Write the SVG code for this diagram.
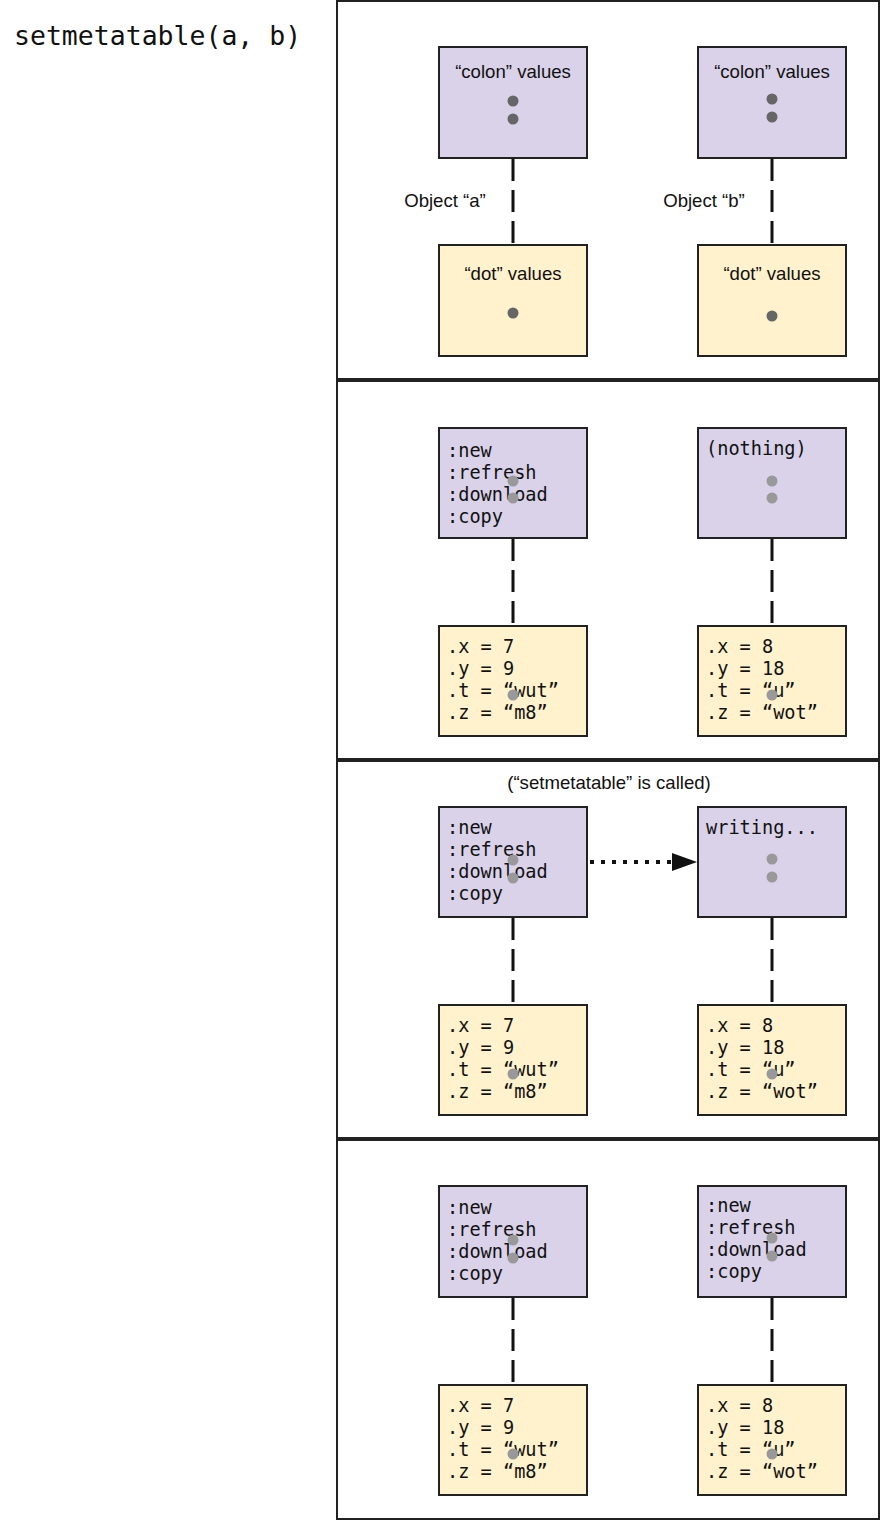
<svg xmlns="http://www.w3.org/2000/svg" width="880" height="1521" viewBox="0 0 880 1521">
<defs>
<style>
.panel{fill:#fff;stroke:#222;stroke-width:2}
.colon{fill:#d9d2e9;stroke:#222;stroke-width:2}
.dot{fill:#fff2cc;stroke:#222;stroke-width:2}
.sans{font-family:"Liberation Sans",Arial,sans-serif;font-size:18.6px;fill:#111}
.mono{font-family:"DejaVu Sans Mono","Liberation Mono",monospace;font-size:18.6px;fill:#111}
.title{font-family:"DejaVu Sans Mono","Liberation Mono",monospace;font-size:26.5px;fill:#111}
.dash{stroke:#111;stroke-width:3;stroke-dasharray:22 9;fill:none}
.arrow{stroke:#111;stroke-width:4;stroke-dasharray:4 7;fill:none}
.d1{fill:#666}
.d2{fill:#999}
</style>
</defs>
<rect width="880" height="1521" fill="#fff"/>
<text id="title" class="title" x="14" y="45">setmetatable(a, b)</text>
<g id="panels">
<rect class="panel" x="337" y="1" width="542" height="378"/>
<rect class="panel" x="337" y="381" width="542" height="378"/>
<rect class="panel" x="337" y="761" width="542" height="377"/>
<rect class="panel" x="337" y="1140" width="542" height="379"/>
</g>
<g id="connectors">
<line class="dash" x1="513" y1="159" x2="513" y2="245"/>
<line class="dash" x1="772" y1="159" x2="772" y2="245"/>
<line class="dash" x1="513" y1="539" x2="513" y2="626"/>
<line class="dash" x1="772" y1="539" x2="772" y2="626"/>
<line class="dash" x1="513" y1="918" x2="513" y2="1005"/>
<line class="dash" x1="772" y1="918" x2="772" y2="1005"/>
<line class="dash" x1="513" y1="1298" x2="513" y2="1385"/>
<line class="dash" x1="772" y1="1298" x2="772" y2="1385"/>
<line class="arrow" x1="590" y1="862" x2="672" y2="862"/>
<path d="M672,853 L697,862 L672,871 Z" fill="#111"/>
</g>
<g id="labels">
<text class="sans" x="445" y="207" text-anchor="middle">Object “a”</text>
<text class="sans" x="704" y="207" text-anchor="middle">Object “b”</text>
<text class="sans" x="609" y="789" text-anchor="middle">(“setmetatable” is called)</text>
</g>
<g id="p1-a-colon"><rect class="colon" x="439" y="47" width="148" height="111"/>
<text class="sans" x="513" y="78" text-anchor="middle">“colon” values</text>
<circle class="d1" cx="513" cy="101" r="5.5"/><circle class="d1" cx="513" cy="119" r="5.5"/></g>
<g id="p1-b-colon"><rect class="colon" x="698" y="47" width="148" height="111"/>
<text class="sans" x="772" y="78" text-anchor="middle">“colon” values</text>
<circle class="d1" cx="772" cy="99" r="5.5"/><circle class="d1" cx="772" cy="117" r="5.5"/></g>
<g id="p1-a-dot"><rect class="dot" x="439" y="245" width="148" height="111"/>
<text class="sans" x="513" y="280" text-anchor="middle">“dot” values</text>
<circle class="d1" cx="513" cy="313" r="5.5"/></g>
<g id="p1-b-dot"><rect class="dot" x="698" y="245" width="148" height="111"/>
<text class="sans" x="772" y="280" text-anchor="middle">“dot” values</text>
<circle class="d1" cx="772" cy="316" r="5.5"/></g>

<g id="p2-a-colon"><rect class="colon" x="439" y="428" width="148" height="110"/>
<text class="mono" x="447" y="457">:new</text><text class="mono" x="447" y="479">:refresh</text><text class="mono" x="447" y="501">:download</text><text class="mono" x="447" y="523">:copy</text>
<circle class="d2" cx="513" cy="481" r="5.5"/><circle class="d2" cx="513" cy="498" r="5.5"/></g>
<g id="p2-b-colon"><rect class="colon" x="698" y="428" width="148" height="110"/>
<text class="mono" x="706" y="455">(nothing)</text>
<circle class="d2" cx="772" cy="481" r="5.5"/><circle class="d2" cx="772" cy="498" r="5.5"/></g>
<g id="p2-a-dot"><rect class="dot" x="439" y="626" width="148" height="110"/>
<text class="mono" x="447" y="653">.x = 7</text><text class="mono" x="447" y="675">.y = 9</text><text class="mono" x="447" y="697">.t = “wut”</text><text class="mono" x="447" y="719">.z = “m8”</text>
<circle class="d2" cx="513" cy="695" r="5.5"/></g>
<g id="p2-b-dot"><rect class="dot" x="698" y="626" width="148" height="110"/>
<text class="mono" x="706" y="653">.x = 8</text><text class="mono" x="706" y="675">.y = 18</text><text class="mono" x="706" y="697">.t = “u”</text><text class="mono" x="706" y="719">.z = “wot”</text>
<circle class="d2" cx="772" cy="695" r="5.5"/></g>

<g id="p3-a-colon"><rect class="colon" x="439" y="807" width="148" height="110"/>
<text class="mono" x="447" y="834">:new</text><text class="mono" x="447" y="856">:refresh</text><text class="mono" x="447" y="878">:download</text><text class="mono" x="447" y="900">:copy</text>
<circle class="d2" cx="513" cy="860" r="5.5"/><circle class="d2" cx="513" cy="878" r="5.5"/></g>
<g id="p3-b-colon"><rect class="colon" x="698" y="807" width="148" height="110"/>
<text class="mono" x="706" y="834">writing...</text>
<circle class="d2" cx="772" cy="859" r="5.5"/><circle class="d2" cx="772" cy="877" r="5.5"/></g>
<g id="p3-a-dot"><rect class="dot" x="439" y="1005" width="148" height="110"/>
<text class="mono" x="447" y="1032">.x = 7</text><text class="mono" x="447" y="1054">.y = 9</text><text class="mono" x="447" y="1076">.t = “wut”</text><text class="mono" x="447" y="1098">.z = “m8”</text>
<circle class="d2" cx="513" cy="1074" r="5.5"/></g>
<g id="p3-b-dot"><rect class="dot" x="698" y="1005" width="148" height="110"/>
<text class="mono" x="706" y="1032">.x = 8</text><text class="mono" x="706" y="1054">.y = 18</text><text class="mono" x="706" y="1076">.t = “u”</text><text class="mono" x="706" y="1098">.z = “wot”</text>
<circle class="d2" cx="772" cy="1074" r="5.5"/></g>

<g id="p4-a-colon"><rect class="colon" x="439" y="1186" width="148" height="111"/>
<text class="mono" x="447" y="1214">:new</text><text class="mono" x="447" y="1236">:refresh</text><text class="mono" x="447" y="1258">:download</text><text class="mono" x="447" y="1280">:copy</text>
<circle class="d2" cx="513" cy="1240" r="5.5"/><circle class="d2" cx="513" cy="1258" r="5.5"/></g>
<g id="p4-b-colon"><rect class="colon" x="698" y="1186" width="148" height="111"/>
<text class="mono" x="706" y="1212">:new</text><text class="mono" x="706" y="1234">:refresh</text><text class="mono" x="706" y="1256">:download</text><text class="mono" x="706" y="1278">:copy</text>
<circle class="d2" cx="772" cy="1238" r="5.5"/><circle class="d2" cx="772" cy="1256" r="5.5"/></g>
<g id="p4-a-dot"><rect class="dot" x="439" y="1385" width="148" height="110"/>
<text class="mono" x="447" y="1412">.x = 7</text><text class="mono" x="447" y="1434">.y = 9</text><text class="mono" x="447" y="1456">.t = “wut”</text><text class="mono" x="447" y="1478">.z = “m8”</text>
<circle class="d2" cx="513" cy="1454" r="5.5"/></g>
<g id="p4-b-dot"><rect class="dot" x="698" y="1385" width="148" height="110"/>
<text class="mono" x="706" y="1412">.x = 8</text><text class="mono" x="706" y="1434">.y = 18</text><text class="mono" x="706" y="1456">.t = “u”</text><text class="mono" x="706" y="1478">.z = “wot”</text>
<circle class="d2" cx="772" cy="1454" r="5.5"/></g>
</svg>
